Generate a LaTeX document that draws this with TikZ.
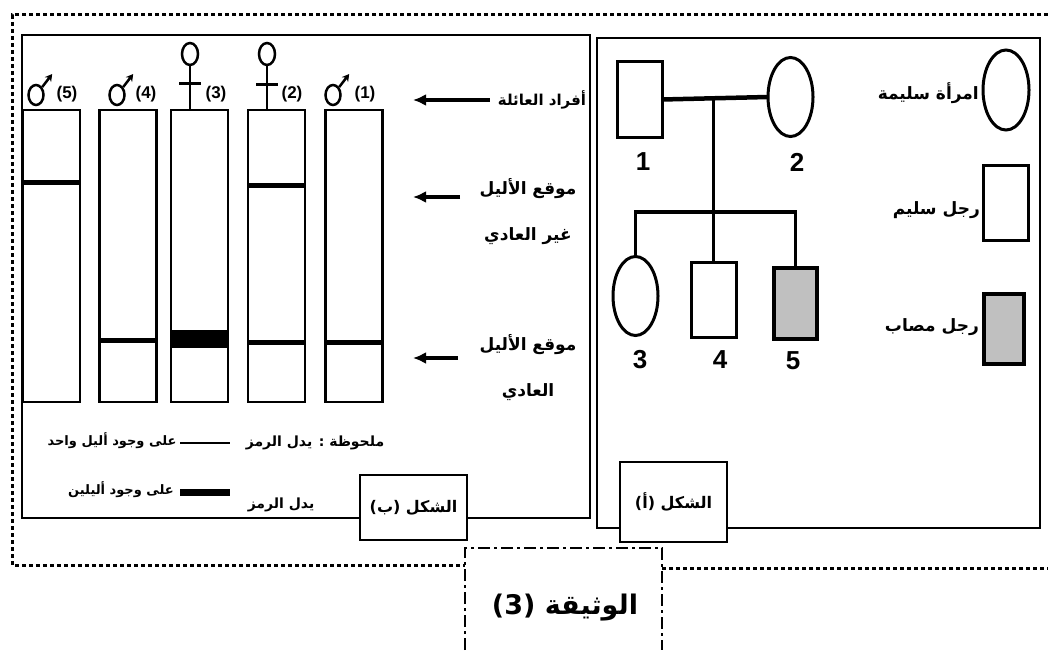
\documentclass[tikz,border=0pt]{standalone}
\usepackage{fontspec}
\setmainfont{Liberation Sans}
\newfontfamily\arabicfont[Script=Arabic]{DejaVu Sans}
\TeXXeTstate=1
\usetikzlibrary{positioning, shapes.geometric, arrows.meta, calc}
\definecolor{mygray}{RGB}{192,192,192}
\tikzset{
  lane/.style={draw, line width=2.5, minimum width=57, minimum height=292, inner sep=0, outer sep=0},
  band/.style={line width=5},
  thickband/.style={line width=18},
  ar/.style={font=\arabicfont\bfseries\fontsize{15}{20}\selectfont, inner sep=0, align=center},
  arsmall/.style={font=\arabicfont\bfseries\fontsize{13}{20}\selectfont, inner sep=0},
  arbig/.style={font=\arabicfont\bfseries\fontsize{17}{46}\selectfont, inner sep=0, align=center},
  arr/.style={-{Latex[length=13,width=12]}, line width=3.5},
  male/.style={draw, ellipse, line width=2.5, minimum width=15, minimum height=20, inner sep=0},
  female/.style={draw, ellipse, line width=2.5, minimum width=16, minimum height=22, inner sep=0},
  sexlabel/.style={font=\bfseries\fontsize{17}{17}\selectfont, inner sep=0},
  ped/.style={draw, line width=3, inner sep=0, outer sep=0},
  pedsq/.style={ped, minimum width=45, minimum height=75},
  pedci/.style={ped, ellipse, minimum width=45, minimum height=79},
  sick/.style={ped, line width=4.5, fill=mygray, minimum width=43, minimum height=71},
  num/.style={font=\bfseries\fontsize{26}{26}\selectfont, inner sep=0},
  legtext/.style={font=\arabicfont\bfseries\fontsize{17}{20}\selectfont, inner sep=0, anchor=east},
  figlabel/.style={draw, line width=2.5, fill=white, minimum width=107, inner sep=0,
    font=\arabicfont\bfseries\fontsize{16}{20}\selectfont}
}

\begin{document}
\begin{tikzpicture}[x=1pt, y=-1pt]
\useasboundingbox (0,0) rectangle (1048,650);

% outer frame
\draw[line width=3, dash pattern=on 4pt off 3pt] (1048,15) -- (12,15) -- (12,565) -- (465,565);
\draw[line width=3, dash pattern=on 4pt off 3pt] (662,568) -- (1048,568);

% panels
\draw[line width=2.5] (22,35) rectangle (590,518);
\draw[line width=2] (597,38) rectangle (1040,528);


% gel lanes
\node [lane] (lane5) at (51.5,256) {};
\node [lane] (lane4) at (128,256) {};
\node [lane] (lane3) at (199.5,256) {};
\node [lane] (lane2) at (276.5,256) {};
\node [lane] (lane1) at (354,256) {};

\draw[band] (lane5.west |- 0,182) -- (lane5.east |- 0,182);
\draw[band] (lane2.west |- 0,185) -- (lane2.east |- 0,185);
\draw[band] (lane4.west |- 0,340) -- (lane4.east |- 0,340);
\draw[thickband] (lane3.west |- 0,339) -- (lane3.east |- 0,339);
\draw[band] (lane2.west |- 0,342) -- (lane2.east |- 0,342);
\draw[band] (lane1.west |- 0,342) -- (lane1.east |- 0,342);


% family members
\node [male] (m5) at (36,95) {};
\draw[line width=2.5, -{Stealth[length=7,width=8]}] (m5.north east) -- ++(10,-13);
\node [sexlabel] (n5) at (67,94) {(5)};

\node [male] (m4) at (117,95) {};
\draw[line width=2.5, -{Stealth[length=7,width=8]}] (m4.north east) -- ++(10,-13);
\node [sexlabel] (n4) at (146,94) {(4)};

\node [female] (f3) at (190,54) {};
\draw[line width=2.5] (f3.south) -- (f3.south |- lane3.north);
\draw[line width=3] (179,84) -- (201,84);
\node [sexlabel] (n3) at (216,94) {(3)};

\node [female] (f2) at (267,54) {};
\draw[line width=2.5] (f2.south) -- (f2.south |- lane2.north);
\draw[line width=3] (256,85) -- (278,85);
\node [sexlabel] (n2) at (292,94) {(2)};

\node [male] (m1) at (333,95) {};
\draw[line width=2.5, -{Stealth[length=7,width=8]}] (m1.north east) -- ++(10,-13);
\node [sexlabel] (n1) at (365,94) {(1)};


% labels of the gel
\node [ar] (family) at (542,100) {\beginR أفراد العائلة\endR};
\coordinate (familytip) at (413,100);
\draw[arr] ([xshift=-8]family.west) -- (familytip);

\node [arbig] (abnormal) at (528,212) {\beginR موقع الأليل\endR\\\beginR غير العادي\endR};
\coordinate (abnormaltip) at (413,197);
\draw[arr] (460,197) -- (abnormaltip);

\node [arbig] (normal) at (528,368) {\beginR موقع الأليل\endR\\\beginR العادي\endR};
\coordinate (normaltip) at (413,358);
\draw[arr] (458,358) -- (normaltip);


% note
\node [ar, font=\arabicfont\bfseries\fontsize{14}{20}\selectfont] (note1) at (315,443) {\beginR ملحوظة : يدل الرمز\endR};
\draw[line width=2.5] (180,443) -- (230,443);
\node [arsmall] (one) at (112,441) {\beginR على وجود أليل واحد\endR};

\node [ar, font=\arabicfont\bfseries\fontsize{14}{20}\selectfont] (note2) at (281,505) {\beginR يدل الرمز\endR};
\draw[line width=7] (180,492) -- (230,492);
\node [arsmall] (two) at (121,490) {\beginR على وجود أليلين\endR};

\node [figlabel, minimum height=65] (figb) at (413.5,507.5) {\beginR الشكل (ب)\endR};


% pedigree
\node [pedsq] (p1) at (639.5,99.5) {};
\node [pedci] (p2) at (790.5,97) {};
\node [pedci] (p3) at (635.5,296) {};
\node [pedsq] (p4) at (713.5,299.5) {};
\node [sick] (p5) at (795.5,303.5) {};

\coordinate (mar) at (p4.north |- p1.east);
\coordinate (sib) at (p4.north |- 0,212);
\draw[line width=4.5] (p1.east) -- (p2.west);
\draw[line width=3] (mar) -- (p4.north);
\draw[line width=3.5] (p3.north) -- (p3.north |- sib) -- (p5.north |- sib) -- (p5.north);

\node [num] (l1) at (643,162) {1};
\node [num] (l2) at (797,162) {2};
\node [num] (l3) at (640,360) {3};
\node [num] (l4) at (720,360) {4};
\node [num] (l5) at (793,361) {5};


% legend
\node [pedci, minimum width=46, minimum height=80] (lwoman) at (1006,90) {};
\node [legtext] (twoman) at (979,93) {\beginR امرأة سليمة\endR};
\node [pedsq] (lman) at (1005.5,202.5) {};
\node [legtext] (tman) at (980,210) {\beginR رجل سليم\endR};
\node [sick, minimum width=40, minimum height=70] (lsick) at (1004,329) {};
\node [legtext] (tsick) at (979,327) {\beginR رجل مصاب\endR};

\node [figlabel, minimum height=80] (figa) at (673.5,502) {\beginR الشكل (أ)\endR};


% document caption
\draw[line width=2.5, dash pattern=on 12pt off 4pt on 3pt off 4pt] (465,650) -- (465,548) -- (662,548) -- (662,650);
\node [font=\arabicfont\bfseries\fontsize{27}{30}\selectfont, inner sep=0] (doc) at (565,608) {\beginR الوثيقة (3)\endR};

\end{tikzpicture}
\end{document}
